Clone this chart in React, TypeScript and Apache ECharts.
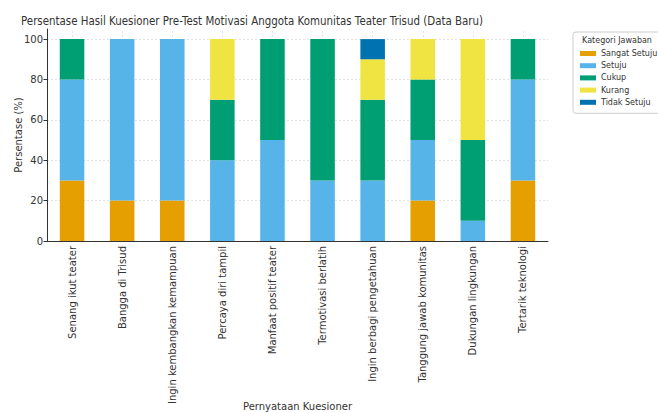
import React, { useEffect, useRef } from "react";
import * as echarts from "echarts";

const TITLE = "Persentase Hasil Kuesioner Pre-Test Motivasi Anggota Komunitas Teater Trisud (Data Baru)";
const LEGEND_TITLE = "Kategori Jawaban";
const X_NAME = "Pernyataan Kuesioner";
const Y_NAME = "Persentase (%)";

const categories = [
  "Senang ikut teater",
  "Bangga di Trisud",
  "Ingin kembangkan kemampuan",
  "Percaya diri tampil",
  "Manfaat positif teater",
  "Termotivasi berlatih",
  "Ingin berbagi pengetahuan",
  "Tanggung jawab komunitas",
  "Dukungan lingkungan",
  "Tertarik teknologi",
];

const seriesNames = ["Sangat Setuju", "Setuju", "Cukup", "Kurang", "Tidak Setuju"];
const sangatSetuju = [30, 20, 20, 0, 0, 0, 0, 20, 0, 30];
const setuju = [50, 80, 80, 40, 50, 30, 30, 30, 10, 50];
const cukup = [20, 0, 0, 30, 50, 70, 40, 30, 40, 20];
const kurang = [0, 0, 0, 30, 0, 0, 20, 20, 50, 0];
const tidakSetuju = [0, 0, 0, 0, 0, 0, 10, 0, 0, 0];
const seriesValues = [sangatSetuju, setuju, cukup, kurang, tidakSetuju];
const colors = ["#E69F00", "#56B4E9", "#009E73", "#F0E442", "#0072B2"];
const yTicks = [0, 20, 40, 60, 80, 100];

const FONT = '"DejaVu Sans", sans-serif';

export default function App() {
  const ref = useRef<HTMLDivElement>(null);
  useEffect(() => {
    if (!ref.current) return;
    const chart = echarts.init(ref.current, undefined, { renderer: "svg" });
    const gridLine = { color: "#dcdcdc", width: 0.8, type: [2, 2] as any };
    chart.setOption({
      animation: false,
      backgroundColor: "#ffffff",
      textStyle: { fontFamily: FONT },
      grid: {
        left: 47,
        right: 110,
        top: 29,
        bottom: 171,
        containLabel: false,
        outerBoundsMode: "none",
      },
      graphic: [
        {
          type: "text",
          x: 21,
          y: 21,
          scaleX: 0.79,
          style: {
            text: TITLE,
            fontSize: 13,
            fontFamily: FONT,
            fill: "#333333",
            verticalAlign: "middle",
            align: "left",
          },
        },
        {
          type: "text",
          x: 617,
          y: 40,
          z: 100,
          style: {
            text: LEGEND_TITLE,
            fontSize: 8,
            fontFamily: FONT,
            fill: "#333333",
            verticalAlign: "middle",
            align: "center",
          },
        },
      ],
      legend: {
        orient: "vertical",
        left: 573,
        top: 32,
        padding: [16.5, 8, 6, 7],
        itemWidth: 16,
        itemHeight: 5,
        itemGap: 2.2,
        icon: "rect",
        borderColor: "#cccccc",
        borderWidth: 1,
        borderRadius: 3,
        textStyle: { fontSize: 8, fontFamily: FONT, color: "#333333", lineHeight: 10 },
        data: seriesNames,
      },
      xAxis: {
        type: "category",
        data: categories,
        name: X_NAME,
        nameLocation: "middle",
        nameGap: 160,
        nameMoveOverlap: false,
        nameTextStyle: { fontSize: 10, color: "#333333", fontFamily: FONT },
        axisLine: { lineStyle: { color: "#333333", width: 1 } },
        axisTick: { alignWithLabel: true, length: 3.5, lineStyle: { color: "#333333" } },
        axisLabel: { rotate: 90, interval: 0, fontSize: 10, color: "#333333", margin: 5, fontFamily: FONT },
        splitLine: { show: false },
        z: 3,
      },
      yAxis: {
        type: "value",
        min: 0,
        max: 105,
        interval: 20,
        name: Y_NAME,
        nameLocation: "middle",
        nameGap: 24,
        nameMoveOverlap: false,
        nameTextStyle: { fontSize: 10, color: "#333333", fontFamily: FONT },
        axisLine: { show: true, lineStyle: { color: "#333333", width: 1 } },
        axisTick: { show: true, length: 3.5, lineStyle: { color: "#333333" }, customValues: yTicks },
        axisLabel: {
          fontSize: 10,
          color: "#333333",
          margin: 4,
          fontFamily: FONT,
          customValues: yTicks,
          formatter: (v: number) => (v % 20 === 0 ? String(v) : ""),
        },
        splitLine: { show: false },
        z: 3,
      },
      series: [
        {
          type: "line",
          name: "__grid",
          data: [],
          z: 0,
          silent: true,
          markLine: {
            silent: true,
            z: 0,
            symbol: "none",
            label: { show: false },
            lineStyle: gridLine,
            data: [
              ...yTicks.map((v) => ({ yAxis: v })),
              ...categories.map((c) => ({ xAxis: c })),
            ],
          },
        },
        ...seriesNames.map((name, i) => ({
          type: "bar",
          name,
          stack: "total",
          barWidth: "49%",
          z: 2,
          itemStyle: { color: colors[i] },
          data: seriesValues[i],
        })),
      ],
    });
    return () => chart.dispose();
  }, []);
  return (
    <div
      ref={ref}
      style={{ position: "fixed", left: 0, top: 0, width: 658, height: 412, background: "#fff" }}
    />
  );
}
